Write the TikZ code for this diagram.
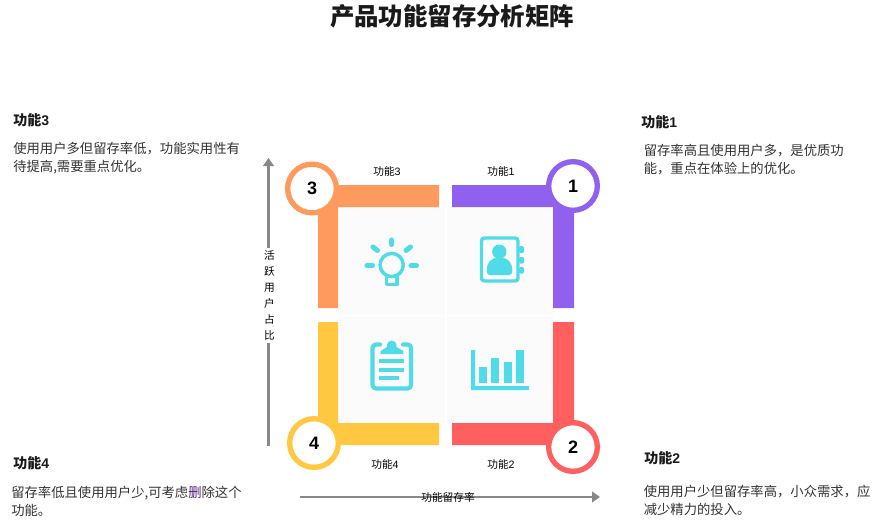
\documentclass[tikz,border=0pt]{standalone}
\usepackage{fontspec}
\setmainfont{Noto Sans CJK SC}
\newfontfamily\latinf{Liberation Sans}
\usetikzlibrary{arrows.meta}
\definecolor{cOrange}{HTML}{FF9A5E}
\definecolor{cPurple}{HTML}{9060EE}
\definecolor{cRed}{HTML}{FF5F5F}
\definecolor{cYellow}{HTML}{FFC840}
\definecolor{cCyan}{HTML}{4FDCE8}
\definecolor{cPanel}{HTML}{FBFBFB}
\definecolor{cAxis}{HTML}{888888}
\definecolor{cText}{HTML}{333333}
\definecolor{cHead}{HTML}{1A1A1A}
\definecolor{cDel}{HTML}{5A1A7A}
\newcommand{\lat}[1]{{\latinf #1}}
\tikzset{
  titletext/.style={font=\fontsize{18.3pt}{22pt}\selectfont\bfseries,text=cHead,inner sep=0pt},
  headtext/.style={font=\fontsize{10.5pt}{13pt}\selectfont\bfseries,text=cHead,anchor=west,inner sep=0pt},
  bodytext/.style={font=\fontsize{10pt}{13.5pt}\selectfont,text=cText,anchor=west,align=left,inner sep=0pt},
  smalltext/.style={font=\fontsize{8pt}{10pt}\selectfont,text=black,inner sep=0pt},
  axislabel/.style={font=\fontsize{8pt}{12.1pt}\selectfont,text=black,inner sep=0pt,align=center},
  axisline/.style={draw=cAxis,line width=1.9pt,-{Triangle[length=6pt,width=8pt]}},
  badge/.style={circle,draw=#1,fill=white,line width=4pt,minimum size=36.5pt,inner sep=0pt,
    font=\fontsize{13.5pt}{15pt}\selectfont\latinf\bfseries,text=black},
  panel/.style={fill=cPanel,draw=none},
  iconline/.style={draw=cCyan,line width=2.6pt,line cap=round,line join=round},
  iconfill/.style={fill=cCyan,draw=none},
}
\begin{document}
\begin{tikzpicture}[x=0.75pt,y=-0.75pt]
\useasboundingbox (0,0) rectangle (873,531);
\fill[white] (0,0) rectangle (873,531);

% panels
\fill[panel] (338,207) rectangle (445,315);
\fill[panel] (447,207) rectangle (553,315);
\fill[panel] (338,316) rectangle (445,423);
\fill[panel] (447,316) rectangle (553,423);

% corner bars
\fill[cOrange] (439,185) -- (318,185) -- (318,308) -- (338,308) -- (338,207) -- (439,207) -- cycle;
\fill[cPurple] (452,185) -- (574,185) -- (574,308) -- (553,308) -- (553,207) -- (452,207) -- cycle;
\fill[cYellow] (439,445) -- (318,445) -- (318,322) -- (338,322) -- (338,423) -- (439,423) -- cycle;
\fill[cRed] (452,445) -- (574,445) -- (574,322) -- (553,322) -- (553,423) -- (452,423) -- cycle;

% badges
\node[badge=cOrange] (b3) at (312,188.5) {3};
\node[badge=cPurple] (b1) at (573,186) {1};
\node[badge=cYellow] (b4) at (314,443) {4};
\node[badge=cRed] (b2) at (573,447) {2};

% bulb icon
\draw[iconline] (391.7,265) circle[radius=11.6];
\draw[iconline] (386.5,276) -- (386.5,284.5) -- (397,284.5) -- (397,276);
\draw[iconline,line width=3.8pt] (391.7,240) -- (391.7,244.5);
\draw[iconline,line width=3.8pt] (367,265.5) -- (372.5,265.5);
\draw[iconline,line width=3.8pt] (411,265.5) -- (416.5,265.5);
\draw[iconline,line width=3.8pt] (373,247) -- (377.5,250.5);
\draw[iconline,line width=3.8pt] (406,250.5) -- (410.5,247);

% contact book icon
\draw[iconline,rounded corners=2.2pt] (481.5,238) rectangle (518,281);
\fill[cCyan,rounded corners=1pt] (519,246) rectangle (524,253);
\fill[cCyan,rounded corners=1pt] (519,257) rectangle (524,263.5);
\fill[cCyan,rounded corners=1pt] (519,267) rectangle (524,273.5);
\fill[iconfill] (499.3,251.7) circle[radius=7.2];
\fill[iconfill] (486.7,271) .. controls (486.7,262) and (491,257.5) .. (499.5,257.5)
  .. controls (508,257.5) and (512.3,262) .. (512.3,271)
  .. controls (512.3,274) and (511,275) .. (509,275) -- (490,275)
  .. controls (488,275) and (486.7,274) .. (486.7,271) -- cycle;

% clipboard icon
\draw[iconline,line width=3.1pt,rounded corners=2.5pt] (380,344.5) -- (372.5,344.5) -- (372.5,388.5) -- (411,388.5) -- (411,344.5) -- (403,344.5);
\fill[iconfill] (380.7,354) -- (403.3,354) -- (403.3,351) -- (396.5,347) -- (387,347) -- (380.7,351) -- cycle;
\fill[iconfill] (391.7,345.5) circle[radius=5];
\fill[iconfill] (379,358.7) rectangle (404.3,362.7);
\fill[iconfill] (379,368) rectangle (404.3,372);
\fill[iconfill] (379,376) rectangle (399,380);

% chart icon
\fill[iconfill] (471,350) -- (475,350) -- (475,386) -- (529,386) -- (529,390) -- (471,390) -- cycle;
\fill[iconfill] (479,366.7) rectangle (487,383.3);
\fill[iconfill] (491.3,358) rectangle (499.3,383.3);
\fill[iconfill] (503.7,362) rectangle (511.7,383.3);
\fill[iconfill] (516,350) rectangle (524,383.3);

% axes
\coordinate (vstart) at (268.5,446);
\coordinate (vend) at (268.5,158);
\coordinate (hstart) at (300,497);
\coordinate (hend) at (600,497);
\draw[axisline] (vstart) -- (vend);
\draw[axisline] (hstart) -- (hend);
\node[axislabel,fill=white,minimum width=14pt,minimum height=71pt] (vlabel) at (269.5,295.5) {活\\跃\\用\\户\\占\\比};
\node[smalltext] (hlabel) at (448,497) {功能留存率};

% title
\node[titletext] (title) at (452,16) {产品功能留存分析矩阵};

% small labels
\node[smalltext] (l3) at (387,171) {功能\lat{3}};
\node[smalltext] (l1) at (501,171) {功能\lat{1}};
\node[smalltext] (l4) at (385,464) {功能\lat{4}};
\node[smalltext] (l2) at (501,464) {功能\lat{2}};

% headings and descriptions
\node[headtext] (h3) at (13,120) {功能\lat{3}};
\node[bodytext] (d3) at (13,158) {使用用户多但留存率低，功能实用性有\\待提高,需要重点优化。};
\node[headtext] (h1) at (641,122) {功能\lat{1}};
\node[bodytext] (d1) at (643.5,160) {留存率高且使用用户多，是优质功\\能，重点在体验上的优化。};
\node[headtext] (h4) at (13,463) {功能\lat{4}};
\node[bodytext] (d4) at (11,501) {留存率低且使用用户少,可考虑{\color{cDel}删}除这个\\功能。};
\node[headtext] (h2) at (644,458) {功能\lat{2}};
\node[bodytext] (d2) at (643.5,500) {使用用户少但留存率高，小众需求，应\\减少精力的投入。};
\end{tikzpicture}
\end{document}
